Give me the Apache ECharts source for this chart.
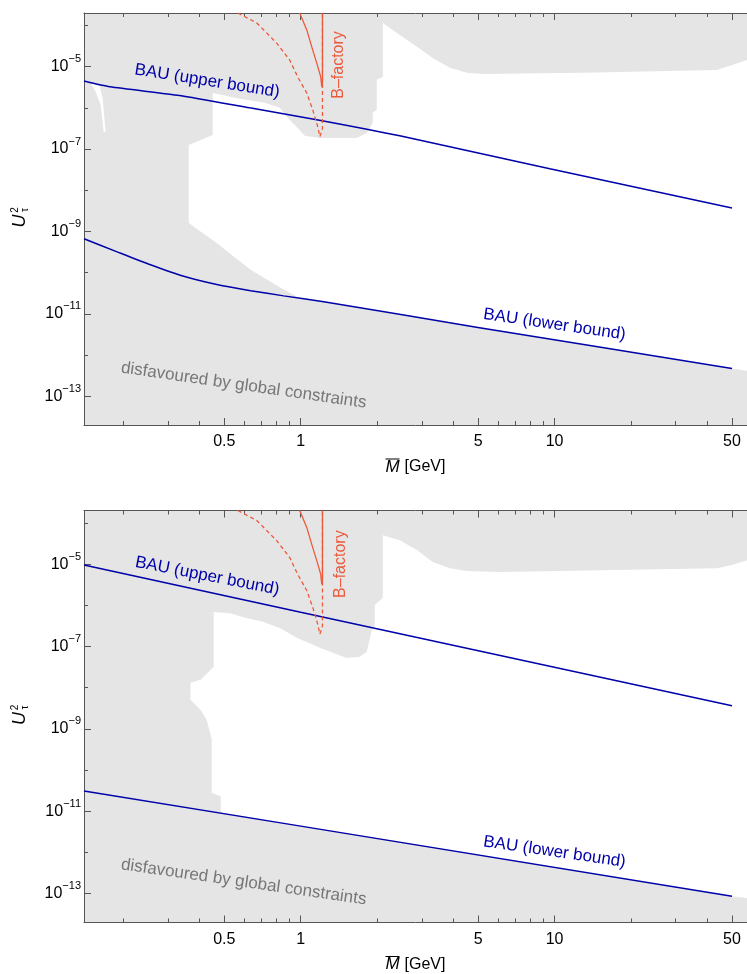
<!DOCTYPE html>
<html>
<head>
<meta charset="utf-8">
<script src="https://cdn.jsdelivr.net/npm/echarts@6/dist/echarts.min.js"></script>
<style>html,body{margin:0;padding:0;background:#fff}#main{width:747px;height:974px}</style>
</head>
<body>
<div id="main"></div>
<script>
// points are [mass in GeV, log10 of U_tau^2]
var xMajor = [0.5, 1, 5, 10, 50];
var xMinor = [0.2, 0.3, 0.4, 0.6, 0.7, 0.8, 0.9, 2, 3, 4, 6, 7, 8, 9, 20, 30, 40];
var yMajor = [-13, -11, -9, -7, -5];
var yMinor = [-12, -10, -8, -6, -4];

// top panel
var allowed1 = [[2.105,-3.94],[2.456,-4.23],[2.87,-4.52],[3.31,-4.79],[3.87,-5.03],[4.51,-5.15],[5.22,-5.18],
    [12.9,-5.15],[43.6,-5.08],[50,-4.96],[60,-4.80],[60,-12.40],[50,-12.33],[4.99,-11.33],[1.56,-10.83],
    [1.232,-10.70],[0.991,-10.61],[0.964,-10.58],[0.857,-10.41],[0.734,-10.17],[0.635,-9.93],[0.544,-9.61],
    [0.467,-9.28],[0.379,-8.89],[0.362,-8.79],[0.362,-6.90],[0.450,-6.66],[0.450,-5.64],[0.575,-5.78],
    [0.721,-5.88],[0.827,-6.00],[0.889,-6.24],[0.973,-6.49],[1.037,-6.68],[1.188,-6.73],[1.663,-6.73],
    [1.820,-6.61],[1.922,-6.37],[1.922,-6.12],[1.993,-6.05],[1.993,-5.32],[2.105,-5.25]];
var sliver1 = [[0.1487,-5.40],[0.1613,-5.47],[0.1658,-5.76],[0.1703,-6.58],[0.1673,-6.58],[0.1628,-5.93],[0.1556,-5.61]];
var bauUpper1 = [[0.14,-5.35],[0.177,-5.49],[0.333,-5.70],[0.629,-6.00],[1.156,-6.29],[2.455,-6.68],[9.58,-7.48],[50,-8.43]];
var bauLower1 = [[0.14,-9.18],[0.188,-9.49],[0.256,-9.81],[0.346,-10.09],[0.467,-10.29],[0.635,-10.44],
    [0.857,-10.565],[1.232,-10.71],[4.99,-11.33],[50,-12.33]];

// bottom panel
var allowed2 = [[2.105,-4.30],[2.456,-4.42],[2.87,-4.66],[3.31,-4.95],[3.87,-5.10],[4.51,-5.17],[6.09,-5.19],
    [43.6,-5.10],[50,-5.02],[60,-4.87],[60,-13.12],[50,-13.06],[0.484,-11.03],[0.484,-10.64],[0.446,-10.55],
    [0.446,-9.26],[0.426,-8.78],[0.4035,-8.54],[0.368,-8.29],[0.368,-7.88],[0.4035,-7.81],[0.454,-7.49],
    [0.454,-6.16],[0.525,-6.19],[0.612,-6.31],[0.708,-6.40],[0.827,-6.55],[0.964,-6.79],[1.056,-6.89],
    [1.188,-7.03],[1.518,-7.28],[1.708,-7.25],[1.820,-7.13],[1.905,-6.60],[1.957,-6.48],[1.957,-5.99],
    [2.105,-5.82]];
var bauUpper2 = [[0.14,-5.02],[1,-6.17],[50,-8.44]];
var bauLower2 = [[0.14,-10.51],[1,-11.36],[50,-13.06]];

// B-factory reach, same in both panels
var bfDashed = [[0.565,-3.70],[0.671,-3.94],[0.804,-4.43],[0.905,-4.84],[0.973,-5.25],[1.056,-5.64],
    [1.115,-6.05],[1.167,-6.46],[1.19,-6.70],[1.218,-6.50],[1.218,-3.70]];
var bfSolid = [[0.991,-3.70],[1.056,-4.11],[1.115,-4.60],[1.156,-4.91],[1.199,-5.25],[1.21,-5.49],[1.218,-5.40],[1.218,-3.70]];

var BLUE = '#0000aa', RED = '#ec5a3c', GREY = '#e5e5e5', AX = '#555', FONT = '"Liberation Sans", Arial, sans-serif';
var XMIN = Math.log10(0.14), XMAX = Math.log10(57.3), YMIN = Math.log10(2e-14), YMAX = Math.log10(2e-4);
var grids = [{left: 84, top: 13, width: 663, height: 412}, {left: 84, top: 510.5, width: 663, height: 412}];

function lg(arr){ return arr.map(function(p){ return [Math.log10(p[0]), p[1]]; }); }

var panels = [
    {allowed: [allowed1, sliver1], upper: bauUpper1, lower: bauLower1, smooth: 0.2,
     notes: [{at:[0.428,-5.35], text:'BAU (upper bound)', angle:9, color:BLUE, size:17},
             {at:[10.0,-11.26], text:'BAU (lower bound)', angle:8.3, color:BLUE, size:17},
             {at:[0.596,-12.74], text:'disfavoured by global constraints', angle:8.2, color:'#777', size:17},
             {at:[1.412,-4.96], text:'B\u2013factory', angle:-90, color:RED, size:16}]},
    {allowed: [allowed2], upper: bauUpper2, lower: bauLower2, smooth: false,
     notes: [{at:[0.428,-5.29], text:'BAU (upper bound)', angle:11, color:BLUE, size:17},
             {at:[10.0,-11.985], text:'BAU (lower bound)', angle:8.3, color:BLUE, size:17},
             {at:[0.596,-12.72], text:'disfavoured by global constraints', angle:8.2, color:'#777', size:17},
             {at:[1.438,-5.0], text:'B\u2013factory', angle:-90, color:RED, size:16}]}
];

var xAxis = [], yAxis = [], series = [], grid = [];
panels.forEach(function(pn, gi){
    grid.push({left: grids[gi].left, top: grids[gi].top, width: grids[gi].width, height: grids[gi].height,
        show: true, backgroundColor: GREY, borderWidth: 0});
    ['bottom', 'top'].forEach(function(pos){
        xAxis.push({type:'value', gridIndex:gi, position:pos, min:XMIN, max:XMAX, splitLine:{show:false},
            axisLine:{show:true, onZero:false, lineStyle:{color:AX, width:1}},
            axisTick:{show:true, inside:true, length:7, customValues: xMajor.map(Math.log10), lineStyle:{color:AX}},
            axisLabel:{show: pos === 'bottom', customValues: xMajor.map(Math.log10), margin:9, color:'#000',
                fontSize:16, fontFamily:FONT,
                formatter:function(v){ return String(+Math.pow(10, v).toPrecision(3)); }}});
        xAxis.push({type:'value', gridIndex:gi, position:pos, min:XMIN, max:XMAX, splitLine:{show:false},
            axisLine:{show:false, onZero:false},
            axisTick:{show:true, inside:true, length:4, customValues: xMinor.map(Math.log10), lineStyle:{color:AX}},
            axisLabel:{show:false}});
    });
    yAxis.push({type:'value', gridIndex:gi, position:'left', min:YMIN, max:YMAX, splitLine:{show:false},
        axisLine:{show:true, onZero:false, lineStyle:{color:AX, width:1}},
        axisTick:{show:true, inside:true, length:7, customValues: yMajor, lineStyle:{color:AX}},
        axisLabel:{customValues: yMajor, margin:3, fontFamily:FONT,
            formatter:function(v){ return '{b|10}{s|\u2212' + Math.round(-v) + '}'; },
            rich:{b:{fontSize:16, lineHeight:26, color:'#000', fontFamily:FONT},
                  s:{fontSize:11, lineHeight:12, verticalAlign:'top', color:'#000', fontFamily:FONT}}}});
    yAxis.push({type:'value', gridIndex:gi, position:'left', min:YMIN, max:YMAX, splitLine:{show:false},
        axisLine:{show:false, onZero:false},
        axisTick:{show:true, inside:true, length:4, customValues: yMinor, lineStyle:{color:AX}},
        axisLabel:{show:false}});

    var xi = gi * 4, yi = gi * 2;
    pn.allowed.forEach(function(poly){
        var pts = lg(poly);
        series.push({type:'custom', xAxisIndex:xi, yAxisIndex:yi, clip:true, z:1, silent:true,
            data:[pts[0]],
            renderItem:function(params, api){
                return {type:'polygon', shape:{points: pts.map(function(p){ return api.coord(p); })},
                    style:{fill:'#fff'}};
            }});
    });
    pn.lineSeries = series.length;
    [[pn.upper, BLUE, 'solid', 1.5, pn.smooth], [pn.lower, BLUE, 'solid', 1.5, pn.smooth],
     [bfDashed, RED, [4, 3], 1.3, false], [bfSolid, RED, 'solid', 1.3, false]].forEach(function(d){
        series.push({type:'line', xAxisIndex:xi, yAxisIndex:yi, data:lg(d[0]), showSymbol:false, z:3,
            smooth:d[4], silent:true, lineStyle:{color:d[1], type:d[2], width:d[3]}});
    });
});

var chart = echarts.init(document.getElementById('main'));
chart.setOption({animation:false, grid:grid, xAxis:xAxis, yAxis:yAxis, series:series});

// annotations and axis titles
var graphic = [];
panels.forEach(function(pn, gi){
    pn.notes.forEach(function(n){
        var p = chart.convertToPixel({seriesIndex: pn.lineSeries}, [Math.log10(n.at[0]), n.at[1]]);
        graphic.push({type:'text', x:p[0], y:p[1], rotation:-n.angle * Math.PI / 180, z:10, silent:true,
            style:{text:n.text, fill:n.color, fontSize:n.size, fontFamily:FONT, textAlign:'center', textVerticalAlign:'middle'}});
    });
    var g = grids[gi], cx = g.left + g.width / 2, by = g.top + g.height + 42, cy = g.top + g.height / 2;
    graphic.push({type:'group', x:cx, y:by, z:10, silent:true, children:[
        {type:'text', x:-23, y:0, style:{text:'M', fill:'#000', font:'italic 17px ' + FONT, textAlign:'center', textVerticalAlign:'middle'}},
        {type:'line', shape:{x1:-30, y1:-8, x2:-16, y2:-8}, style:{stroke:'#000', lineWidth:1}},
        {type:'text', x:-11, y:0, style:{text:'[GeV]', fill:'#000', font:'16px ' + FONT, textAlign:'left', textVerticalAlign:'middle'}}
    ]});
    graphic.push({type:'group', x:20, y:cy, rotation:Math.PI / 2, z:10, silent:true, children:[
        {type:'text', x:-2, y:0, style:{text:'U', fill:'#000', font:'italic 18px ' + FONT, textAlign:'center', textVerticalAlign:'middle'}},
        {type:'text', x:9, y:-5, style:{text:'2', fill:'#000', font:'10px ' + FONT, textAlign:'center', textVerticalAlign:'middle'}},
        {type:'text', x:9, y:5, style:{text:'\u03c4', fill:'#000', font:'10px ' + FONT, textAlign:'center', textVerticalAlign:'middle'}}
    ]});
});
chart.setOption({graphic: graphic});
</script>
</body>
</html>
